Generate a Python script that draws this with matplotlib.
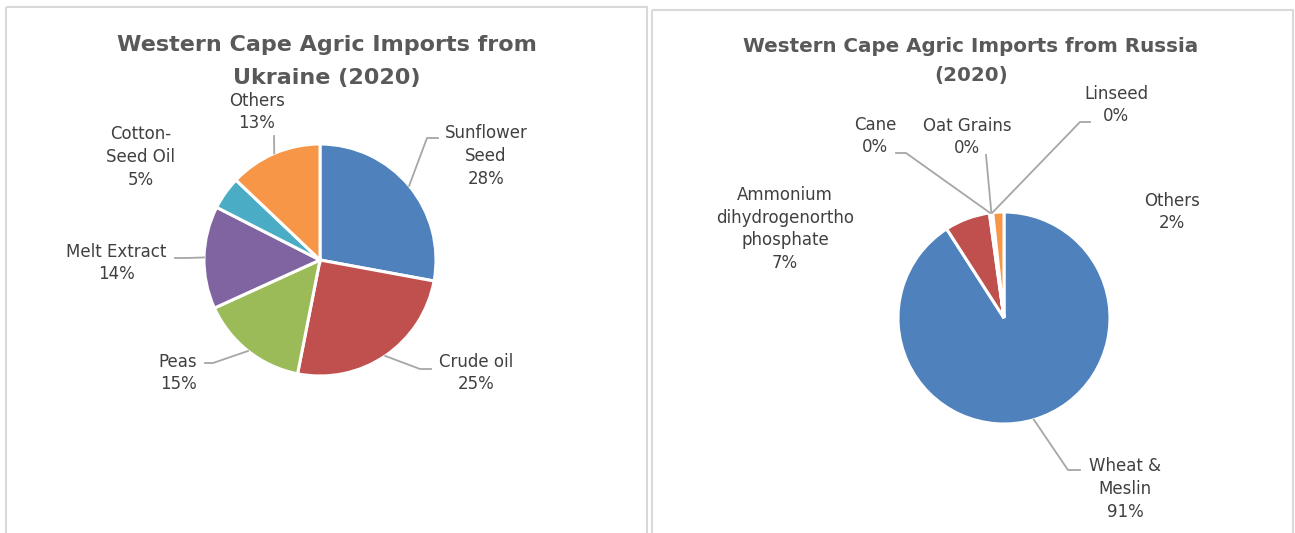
import numpy as np
import matplotlib.pyplot as plt
from matplotlib.patches import Rectangle
from matplotlib.lines import Line2D
from matplotlib.transforms import Affine2D

# data
ua_labels = ['Sunflower\nSeed', 'Crude oil', 'Peas', 'Melt Extract', 'Cotton-\nSeed Oil', 'Others']
ua_values = [27.9, 25.2, 15.1, 14.3, 4.6, 12.9]

ru_labels = ['Wheat &\nMeslin', 'Ammonium\ndihydrogenortho\nphosphate', 'Cane', 'Oat Grains', 'Linseed', 'Others']
ru_values = [90.9, 6.9, 0.2, 0.2, 0.1, 1.7]

colors = ['#4F81BD', '#C0504D', '#9BBB59', '#8064A2', '#4BACC6', '#F79646']

W, H = 1295, 533
fig = plt.figure(figsize=(W / 100, H / 100), dpi=100)
# pixel coords (origin top-left) -> figure
px = Affine2D().scale(1 / W, -1 / H).translate(0, 1) + fig.transFigure

TITLE_C = '#595959'
TEXT_C = '#404040'
LINE_C = '#A6A6A6'

# panel frames
for x0, y0, x1 in [(6, 7, 647), (652, 10, 1293)]:
    fig.add_artist(Rectangle((x0, y0), x1 - x0, 540 - y0, transform=px, fill=False,
                             edgecolor='#D9D9D9', lw=1.5))


def draw_pie(cx, cy, r, values, labels, label_pos, leaders):
    ax = fig.add_axes([(cx - r) / W, (H - cy - r) / H, 2 * r / W, 2 * r / H])
    wedges, _ = ax.pie(values, colors=colors, startangle=90, counterclock=False, radius=1,
                       wedgeprops=dict(edgecolor='white', linewidth=2.2))
    ax.set_xlim(-1, 1)
    ax.set_ylim(-1, 1)
    ax.set_axis_off()
    for w, lab, v, pos, lead in zip(wedges, labels, values, label_pos, leaders):
        fig.text(pos[0], pos[1], f'{lab}\n{round(v)}%', transform=px, ha='center', va='center',
                 ma='center', fontsize=12, color=TEXT_C, linespacing=1.35)
        if lead is None:
            continue
        mid = np.deg2rad((w.theta1 + w.theta2) / 2)
        ex, ey = cx + r * np.cos(mid), cy - r * np.sin(mid)
        xs = [ex] + [p[0] for p in lead]
        ys = [ey] + [p[1] for p in lead]
        fig.add_artist(Line2D(xs, ys, transform=px, color=LINE_C, lw=1.3))


# Ukraine
fig.text(327, 45, 'Western Cape Agric Imports from', transform=px, ha='center', va='center',
         fontsize=16, fontweight='bold', color=TITLE_C)
fig.text(327, 78, 'Ukraine (2020)', transform=px, ha='center', va='center',
         fontsize=16, fontweight='bold', color=TITLE_C)
ua_pos = [(486, 156), (476, 373), (178, 373), (116, 263), (141, 157), (257, 112)]
ua_lead = [[(427, 138), (438, 138)], [(420, 369), (431, 369)], [(213, 363), (205, 363)],
           [(186, 258), (175, 258)], None, [(274, 136)]]
draw_pie(320, 260, 116, ua_values, ua_labels, ua_pos, ua_lead)

# Russia
fig.text(971, 47, 'Western Cape Agric Imports from Russia', transform=px, ha='center', va='center',
         fontsize=14.3, fontweight='bold', color=TITLE_C)
fig.text(971, 75, '(2020)', transform=px, ha='center', va='center',
         fontsize=14.3, fontweight='bold', color=TITLE_C)
ru_pos = [(1125, 489), (785, 229), (875, 136), (967, 137), (1116, 105), (1172, 212)]
ru_lead = [[(1068, 470), (1080, 470)], None, [(906, 153), (896, 153)], [(986, 155)],
           [(1080, 122), (1090, 122)], None]
draw_pie(1004, 318, 106, ru_values, ru_labels, ru_pos, ru_lead)

fig.savefig('out.png', dpi=100)
